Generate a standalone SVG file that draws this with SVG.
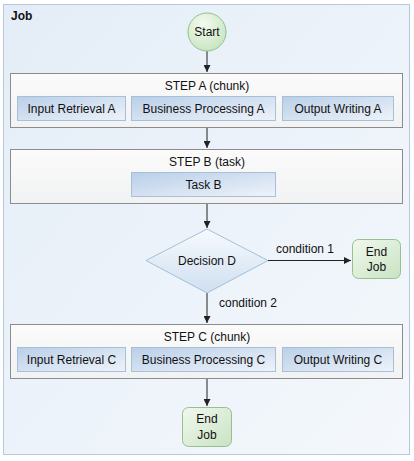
<svg xmlns="http://www.w3.org/2000/svg" width="414" height="461" viewBox="0 0 414 461">
<defs>
<linearGradient id="gJob" x1="0" y1="0" x2="1" y2="1"><stop offset="0" stop-color="#e4edf7"/><stop offset="1" stop-color="#f4f8fc"/></linearGradient>
<linearGradient id="gStep" x1="0" y1="0" x2="0" y2="1"><stop offset="0" stop-color="#fbfbfb"/><stop offset="1" stop-color="#f1f2f3"/></linearGradient>
<linearGradient id="gSub" x1="0" y1="0" x2="1" y2="1"><stop offset="0" stop-color="#b9cfe8"/><stop offset="1" stop-color="#eef3fa"/></linearGradient>
<radialGradient id="gStart" cx="0.4" cy="0.3" r="0.8"><stop offset="0" stop-color="#f4fbf0"/><stop offset="1" stop-color="#c3e2bc"/></radialGradient>
<linearGradient id="gEnd" x1="0" y1="0" x2="1" y2="1"><stop offset="0" stop-color="#f1f8ee"/><stop offset="1" stop-color="#c9e3c2"/></linearGradient>
<linearGradient id="gDec" x1="0" y1="0" x2="0" y2="1"><stop offset="0" stop-color="#f7fafd"/><stop offset="1" stop-color="#cfdff0"/></linearGradient>
<marker id="arr" viewBox="0 0 10 10" refX="10" refY="5" markerWidth="7" markerHeight="7" orient="auto" markerUnits="userSpaceOnUse"><path d="M0,0 L10,5 L0,10 z" fill="#222"/></marker>
</defs>
<style>
text{font-family:"Liberation Sans",Arial,sans-serif;font-size:12px;fill:#111;}
.c{text-anchor:middle;}
.step{fill:url(#gStep);stroke:#8c8c8c;stroke-width:1;}
.sub{fill:url(#gSub);stroke:#a9bfd6;stroke-width:1;}
.end{fill:url(#gEnd);stroke:#98c08e;stroke-width:1;}
.conn{stroke:#222;stroke-width:1;fill:none;marker-end:url(#arr);}
</style>
<g id="job">
<rect x="3.5" y="4.5" width="406" height="450" fill="url(#gJob)" stroke="#b5c8dc"/>
<text x="11" y="20" font-weight="bold">Job</text>
</g>
<g id="connectors">
<line class="conn" x1="207" y1="51" x2="207" y2="72"/>
<line class="conn" x1="207" y1="127" x2="207" y2="148"/>
<line class="conn" x1="207" y1="203" x2="207" y2="228"/>
<line class="conn" x1="268" y1="260.5" x2="351" y2="260.5"/>
<text x="276" y="253">condition 1</text>
<line class="conn" x1="207" y1="293" x2="207" y2="323"/>
<text x="219" y="307">condition 2</text>
<line class="conn" x1="207" y1="378" x2="207" y2="406"/>
</g>
<g id="start">
<circle cx="207" cy="32" r="19" fill="url(#gStart)" stroke="#95bf8b"/>
<text class="c" x="207" y="36">Start</text>
</g>
<g id="stepA">
<rect class="step" x="10.5" y="73.5" width="392" height="54"/>
<text class="c" x="207" y="90">STEP A (chunk)</text>
<g id="inputA"><rect class="sub" x="17.5" y="96.5" width="108" height="24"/><text class="c" x="71.5" y="113">Input Retrieval A</text></g>
<g id="procA"><rect class="sub" x="131.5" y="96.5" width="144" height="24"/><text class="c" x="203.5" y="113">Business Processing A</text></g>
<g id="outA"><rect class="sub" x="282.5" y="96.5" width="111" height="24"/><text class="c" x="338" y="113">Output Writing A</text></g>
</g>
<g id="stepB">
<rect class="step" x="10.5" y="149.5" width="392" height="54"/>
<text class="c" x="207" y="166">STEP B (task)</text>
<g id="taskB"><rect class="sub" x="131.5" y="172.5" width="144" height="24"/><text class="c" x="203.5" y="189">Task B</text></g>
</g>
<g id="decisionD">
<polygon points="207,229 268,260.5 207,293 146,260.5" fill="url(#gDec)" stroke="#a3bfda"/>
<text class="c" x="207" y="265">Decision D</text>
</g>
<g id="endJob1">
<rect class="end" x="352.5" y="239.5" width="48" height="39" rx="6"/>
<text class="c" x="376.5" y="256">End</text>
<text class="c" x="376.5" y="271">Job</text>
</g>
<g id="stepC">
<rect class="step" x="10.5" y="324.5" width="392" height="54"/>
<text class="c" x="207" y="341">STEP C (chunk)</text>
<g id="inputC"><rect class="sub" x="17.5" y="347.5" width="108" height="24"/><text class="c" x="71.5" y="364">Input Retrieval C</text></g>
<g id="procC"><rect class="sub" x="131.5" y="347.5" width="144" height="24"/><text class="c" x="203.5" y="364">Business Processing C</text></g>
<g id="outC"><rect class="sub" x="282.5" y="347.5" width="111" height="24"/><text class="c" x="338" y="364">Output Writing C</text></g>
</g>
<g id="endJob2">
<rect class="end" x="182.5" y="407.5" width="49" height="39" rx="6"/>
<text class="c" x="207" y="423">End</text>
<text class="c" x="207" y="439">Job</text>
</g>
</svg>
